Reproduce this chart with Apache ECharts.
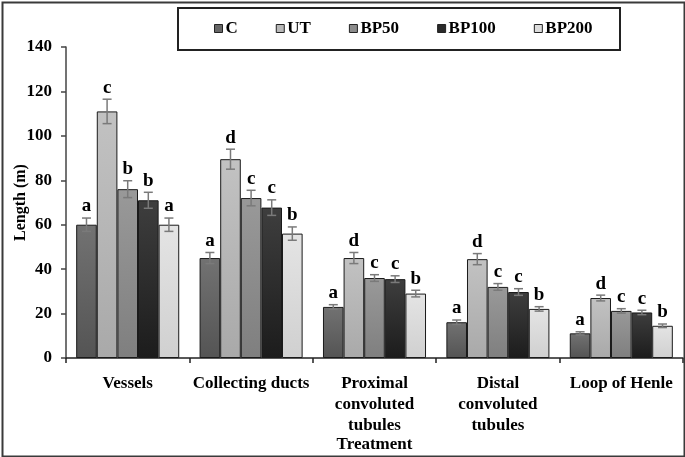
<!DOCTYPE html>
<html>
<head>
<meta charset="utf-8">
<script src="https://cdn.jsdelivr.net/npm/echarts@6/dist/echarts.min.js"></script>
<style>html,body{margin:0;padding:0;background:#fff;}#c{width:685px;height:457px;}</style>
</head>
<body>
<div id="c"></div>
<script>
var categories = ['Vessels', 'Collecting ducts', 'Proximal\nconvoluted\ntubules', 'Distal\nconvoluted\ntubules', 'Loop of Henle'];
var seriesNames = ['C', 'UT', 'BP50', 'BP100', 'BP200'];
var valC     = [60, 45, 23, 16.1, 11.1];
var valUT    = [111, 89.5, 45, 44.5, 27];
var valBP50  = [76, 72, 36, 32, 21.2];
var valBP100 = [71, 67.7, 35.5, 29.7, 20.5];
var valBP200 = [60, 56, 29, 22.1, 14.5];
var errC     = [3, 2.5, 1, 1, 0.7];
var errUT    = [5.5, 4.5, 2.5, 2.5, 1.3];
var errBP50  = [3.8, 3.5, 1.5, 1.5, 1];
var errBP100 = [3.6, 3.5, 1.5, 1.5, 1];
var errBP200 = [3, 3, 1.5, 1, 0.8];
var letC     = ['a', 'a', 'a', 'a', 'a'];
var letUT    = ['c', 'd', 'd', 'd', 'd'];
var letBP50  = ['b', 'c', 'c', 'c', 'c'];
var letBP100 = ['b', 'c', 'c', 'c', 'c'];
var letBP200 = ['a', 'b', 'b', 'b', 'b'];
var yTicks = [0, 20, 40, 60, 80, 100, 120, 140];

var values = [valC, valUT, valBP50, valBP100, valBP200];
var errors = [errC, errUT, errBP50, errBP100, errBP200];
var letters = [letC, letUT, letBP50, letBP100, letBP200];
var colors = [['#727272', '#545454'], ['#c2c2c2', '#a9a9a9'], ['#999999', '#7f7f7f'], ['#3e3e3e', '#1c1c1c'], ['#e4e4e4', '#d0d0d0']];
var legendColors = ['#666666', '#b8b8b8', '#8c8c8c', '#2a2a2a', '#dcdcdc'];
var GAP = 0.165;
var N = seriesNames.length;
var serif = '"Liberation Serif", "Times New Roman", serif';

var series = [];
seriesNames.forEach(function (name, si) {
  series.push({
    name: name,
    type: 'bar',
    barGap: '0%',
    barCategoryGap: (GAP * 100) + '%',
    data: values[si],
    itemStyle: {
      color: {type: 'linear', x: 0, y: 0, x2: 0, y2: 1, colorStops: [{offset: 0, color: colors[si][0]}, {offset: 1, color: colors[si][1]}]},
      borderColor: '#1a1a1a',
      borderWidth: 1
    }
  });
});
seriesNames.forEach(function (name, si) {
  series.push({
    type: 'custom',
    z: 10,
    silent: true,
    data: values[si].map(function (v, ci) { return [ci, v, errors[si][ci]]; }),
    renderItem: function (params, api) {
      var ci = api.value(0), v = api.value(1), e = api.value(2);
      var c = api.coord([ci, 0]);
      var catW = api.size([1, 0])[0];
      var barW = catW * (1 - GAP) / N;
      var x = c[0] + (si - (N - 1) / 2) * barW;
      var top = api.coord([ci, v + e])[1];
      var bot = api.coord([ci, v - e])[1];
      var hw = 4.5;
      var st = {stroke: '#7a7a7a', lineWidth: 1.5};
      return {type: 'group', children: [
        {type: 'line', shape: {x1: x, y1: top, x2: x, y2: bot}, style: st},
        {type: 'line', shape: {x1: x - hw, y1: top, x2: x + hw, y2: top}, style: st},
        {type: 'line', shape: {x1: x - hw, y1: bot, x2: x + hw, y2: bot}, style: st},
        {type: 'text', x: x, y: top - 2, style: {text: letters[si][ci], textAlign: 'center', textVerticalAlign: 'bottom', font: 'bold 19px ' + serif, fill: '#000'}}
      ]};
    }
  });
});

var chart = echarts.init(document.getElementById('c'));
chart.setOption({
  animation: false,
  backgroundColor: '#fff',
  graphic: [
    {type: 'rect', left: 0, top: 0, shape: {x: 1, y: 1, width: 682, height: 454}, style: {fill: 'none', stroke: '#3a3a3a', lineWidth: 2}, z: 100},
    {type: 'rect', shape: {x: 178, y: 8, width: 442, height: 42}, style: {fill: '#fff', stroke: '#222', lineWidth: 2}, z: -1}
  ],
  legend: {
    data: seriesNames.map(function (n, i) { return {name: n, icon: 'rect', itemStyle: {color: legendColors[i], borderColor: '#222', borderWidth: 1}}; }),
    left: 214,
    top: 20,
    itemWidth: 8,
    itemHeight: 8,
    itemGap: 38,
    padding: 0,
    textStyle: {fontFamily: serif, fontWeight: 'bold', fontSize: 17, color: '#000', padding: [0, 0, 0, -2]}
  },
  grid: {left: 66, right: 2, top: 47, bottom: 99, containLabel: false, outerBoundsMode: 'none'},
  xAxis: {
    type: 'category',
    data: categories,
    name: 'Treatment',
    nameLocation: 'middle',
    nameGap: 78,
    nameMoveOverlap: false,
    nameTextStyle: {fontFamily: serif, fontWeight: 'bold', fontSize: 17, color: '#000'},
    axisLine: {lineStyle: {color: '#222', width: 1.5}},
    axisTick: {show: true, length: 5, lineStyle: {color: '#222', width: 1.5}},
    axisLabel: {fontFamily: serif, fontWeight: 'bold', fontSize: 17, color: '#000', lineHeight: 21, margin: 15, interval: 0}
  },
  yAxis: {
    type: 'value',
    min: yTicks[0],
    max: yTicks[yTicks.length - 1],
    interval: yTicks[1] - yTicks[0],
    name: 'Length (m)',
    nameLocation: 'middle',
    nameGap: 37,
    nameMoveOverlap: false,
    nameTextStyle: {fontFamily: serif, fontWeight: 'bold', fontSize: 16, color: '#000'},
    splitLine: {show: false},
    axisLine: {show: true, lineStyle: {color: '#444', width: 1.5}},
    axisTick: {show: true, length: 5, lineStyle: {color: '#444', width: 1.5}},
    axisLabel: {fontFamily: serif, fontWeight: 'bold', fontSize: 17, color: '#000', margin: 14}
  },
  series: series
});
</script>
</body>
</html>
